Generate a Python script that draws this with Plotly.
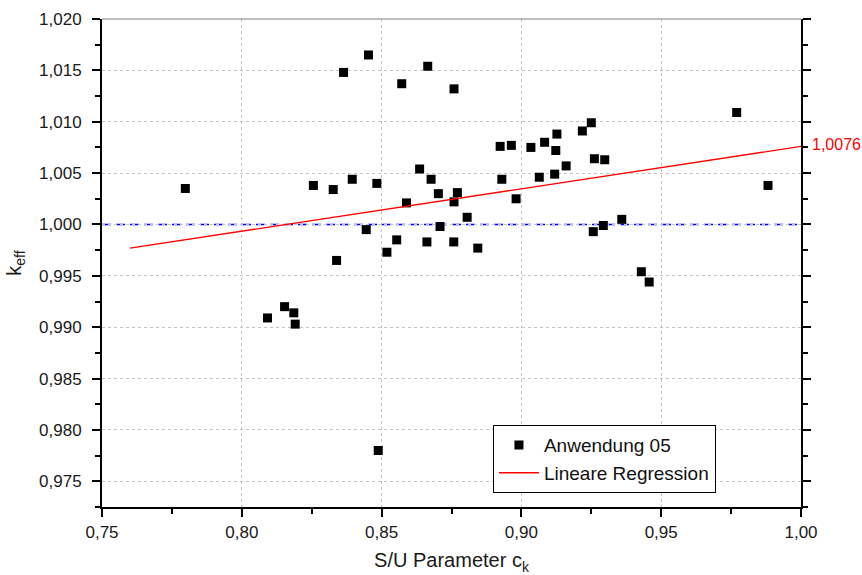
import plotly.graph_objects as go

# S/U parameter c_k and k_eff for each case of "Anwendung 05"
ck = [0.7798, 0.8092, 0.8153, 0.8186, 0.8191, 0.8256, 0.8327, 0.8339, 0.8364, 0.8395,
      0.8445, 0.8453, 0.8483, 0.8488, 0.8519, 0.8554, 0.8572, 0.8589, 0.8636, 0.8662,
      0.8665, 0.8677, 0.8703, 0.8709, 0.8758, 0.8759, 0.8759, 0.8771, 0.8806, 0.8844,
      0.8924, 0.8930, 0.8964, 0.8981, 0.9034, 0.9064, 0.9083, 0.9119, 0.9123, 0.9127,
      0.9160, 0.9218, 0.9250, 0.9257, 0.9261, 0.9293, 0.9298, 0.9359, 0.9429, 0.9457,
      0.9770, 0.9882]
keff = [1.0035, 0.9909, 0.9920, 0.9914, 0.9903, 1.0038, 1.0034, 0.9965, 1.0148, 1.0044,
        0.9995, 1.0165, 1.0040, 0.9780, 0.9973, 0.9985, 1.0137, 1.0021, 1.0054, 0.9983,
        1.0154, 1.0044, 1.0030, 0.9998, 0.9983, 1.0022, 1.0132, 1.0031, 1.0007, 0.9977,
        1.0076, 1.0044, 1.0077, 1.0025, 1.0075, 1.0046, 1.0080, 1.0049, 1.0072, 1.0088,
        1.0057, 1.0091, 1.0099, 0.9993, 1.0064, 0.9999, 1.0063, 1.0005, 0.9954, 0.9944,
        1.0109, 1.0038]

# Linear regression line endpoints
reg_x = [0.76, 1.00]
reg_y = [0.9977, 1.0076]
reg_label = "1,0076"

x_range = [0.75, 1.00]
y_range = [0.9725, 1.020]
reference_k = 1.000

font_family = "Arial, Liberation Sans, sans-serif"
text_color = "#1a1a1a"

fig = go.Figure()

fig.add_trace(go.Scatter(
    x=ck, y=keff, mode="markers", name="Anwendung 05",
    marker=dict(symbol="square", size=9, color="black", line=dict(width=0)),
))
fig.add_trace(go.Scatter(
    x=reg_x, y=reg_y, mode="lines", name="Lineare Regression",
    line=dict(color="red", width=1.3),
))

# k_eff = 1 reference line
fig.add_shape(type="line", xref="x", yref="y",
              x0=x_range[0], x1=x_range[1], y0=reference_k, y1=reference_k,
              line=dict(color="blue", width=1.5, dash="9px,5px"), layer="below")

# thin frame line along the top of the plot area
fig.add_shape(type="line", xref="paper", yref="paper", x0=0, x1=1, y0=1, y1=1,
              line=dict(color="#7a7a7a", width=1))

# value of the regression line at the right edge
fig.add_annotation(x=reg_x[-1], y=reg_y[-1], xref="x", yref="y",
                   text=reg_label, showarrow=False, xanchor="left", yanchor="middle",
                   xshift=9, yshift=2, font=dict(color="red", size=16, family=font_family))

axis_common = dict(
    showline=True, linecolor="black", linewidth=2, automargin=False,
    ticks="outside", ticklen=8, tickwidth=1.5, tickcolor="black",
    showgrid=True, gridcolor="#c4c4c4", griddash="dot", gridwidth=1,
    zeroline=False,
    tickfont=dict(size=17, color=text_color, family=font_family),
)

fig.update_xaxes(
    range=x_range, dtick=0.05, tick0=0.75, tickformat=".2f", mirror=False,
    ticklabelstandoff=1,
    minor=dict(dtick=0.025, ticklen=5, tickwidth=1.5, tickcolor="black", ticks="outside", showgrid=False),
    title=dict(text="S/U Parameter c<sub>k</sub>", font=dict(size=20, color=text_color, family=font_family), standoff=12),
    **axis_common,
)
fig.update_yaxes(
    range=y_range, dtick=0.005, tick0=0.975, tickformat=".3f", mirror="ticks",
    ticklabelstandoff=7,
    minor=dict(dtick=0.0025, ticklen=5, tickwidth=1.5, tickcolor="black", ticks="outside", showgrid=False),
    title=dict(text="k<sub>eff</sub>", font=dict(size=20, color=text_color, family=font_family), standoff=12),
    **axis_common,
)

fig.update_layout(
    width=862, height=575,
    margin=dict(l=102, r=61, t=19, b=68),
    plot_bgcolor="white", paper_bgcolor="white",
    separators=",.",
    font=dict(family=font_family, color=text_color),
    showlegend=True,
    legend=dict(
        x=0.559, y=0.168, xanchor="left", yanchor="top",
        bgcolor="white", bordercolor="black", borderwidth=1.2,
        font=dict(size=19, color="#111", family=font_family),
        tracegroupgap=0, itemwidth=40,
    ),
)

fig.write_html("out.html")
